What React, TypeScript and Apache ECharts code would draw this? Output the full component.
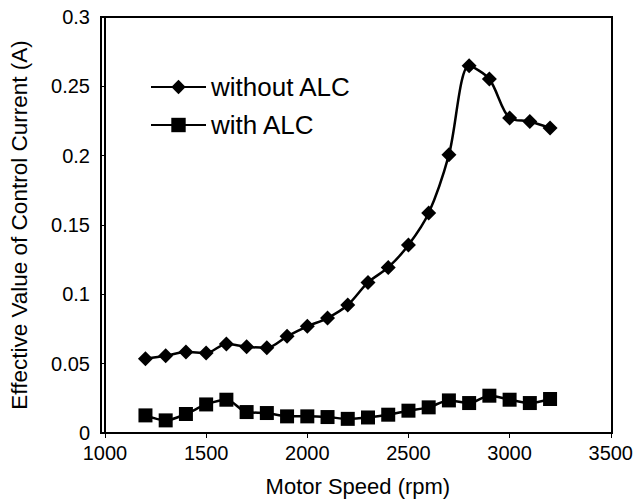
import React, { useEffect, useRef } from "react";
import * as echarts from "echarts";

const speeds = [1200, 1300, 1400, 1500, 1600, 1700, 1800, 1900, 2000, 2100, 2200, 2300, 2400, 2500, 2600, 2700, 2800, 2900, 3000, 3100, 3200];
const withoutALC = [0.0536, 0.0557, 0.0584, 0.0577, 0.0642, 0.0622, 0.0615, 0.0697, 0.0769, 0.0829, 0.0923, 0.1086, 0.1194, 0.1355, 0.1586, 0.2006, 0.2648, 0.2552, 0.2271, 0.2247, 0.2199];
const withALC = [0.0127, 0.0091, 0.0137, 0.0206, 0.024, 0.0151, 0.0144, 0.012, 0.012, 0.0115, 0.0102, 0.0112, 0.0132, 0.0161, 0.0185, 0.0235, 0.0216, 0.0269, 0.024, 0.0216, 0.0245];
const seriesNames = ["without ALC", "with ALC"];

const FONT = "'Liberation Sans', Arial, Helvetica, sans-serif";

export default function App() {
  const ref = useRef<HTMLDivElement>(null);
  useEffect(() => {
    if (!ref.current) return;
    const chart = echarts.init(ref.current, null, { renderer: "svg" });
    const axisLine = { show: true, lineStyle: { color: "#000", width: 2 } };
    chart.setOption({
      animation: false,
      backgroundColor: "#fff",
      textStyle: { fontFamily: FONT, color: "#000" },
      grid: { left: 101, right: 24, top: 17, bottom: 71, containLabel: false },
      legend: {
        orient: "vertical",
        left: 145,
        top: 69,
        itemWidth: 55,
        itemHeight: 18,
        itemGap: 12,
        textStyle: { fontFamily: FONT, fontSize: 26, color: "#000", lineHeight: 26 },
        data: seriesNames,
      },
      xAxis: {
        type: "value",
        min: 1000,
        max: 3500,
        interval: 500,
        name: "Motor Speed (rpm)",
        nameLocation: "middle",
        nameGap: 42,
        nameTextStyle: { fontFamily: FONT, fontSize: 22, color: "#000" },
        axisLine,
        axisTick: { show: true, length: 5, lineStyle: { color: "#000", width: 1 } },
        axisLabel: { fontFamily: FONT, fontSize: 20, color: "#000", margin: 10, formatter: (v: number) => String(v) },
        splitLine: { show: false },
      },
      yAxis: {
        type: "value",
        min: 0,
        max: 0.3,
        interval: 0.05,
        name: "Effective Value of Control Current (A)",
        nameLocation: "middle",
        nameGap: 74,
        nameTextStyle: { fontFamily: FONT, fontSize: 22.5, color: "#000" },
        axisLine,
        axisTick: { show: true, length: 5, lineStyle: { color: "#000", width: 1 } },
        axisLabel: { fontFamily: FONT, fontSize: 20, color: "#000", margin: 15, formatter: (v: number) => String(v) },
        splitLine: { show: false },
      },
      graphic: [
        {
          type: "rect",
          shape: { x: 101, y: 17, width: 511, height: 416 },
          style: { fill: "none", stroke: "#000", lineWidth: 2 },
          silent: true,
          z: 10,
        },
      ],
      series: [
        {
          name: seriesNames[0],
          type: "line",
          data: speeds.map((s, i) => [s, withoutALC[i]]),
          smooth: 0.3,
          symbol: "diamond",
          symbolSize: 15,
          lineStyle: { color: "#000", width: 2.5 },
          itemStyle: { color: "#000" },
        },
        {
          name: seriesNames[1],
          type: "line",
          data: speeds.map((s, i) => [s, withALC[i]]),
          smooth: 0.3,
          symbol: "rect",
          symbolSize: 14,
          lineStyle: { color: "#000", width: 2.5 },
          itemStyle: { color: "#000" },
        },
      ],
    });
    return () => chart.dispose();
  }, []);
  return <div ref={ref} style={{ width: 636, height: 504, position: "absolute", left: 0, top: 0 }} />;
}
